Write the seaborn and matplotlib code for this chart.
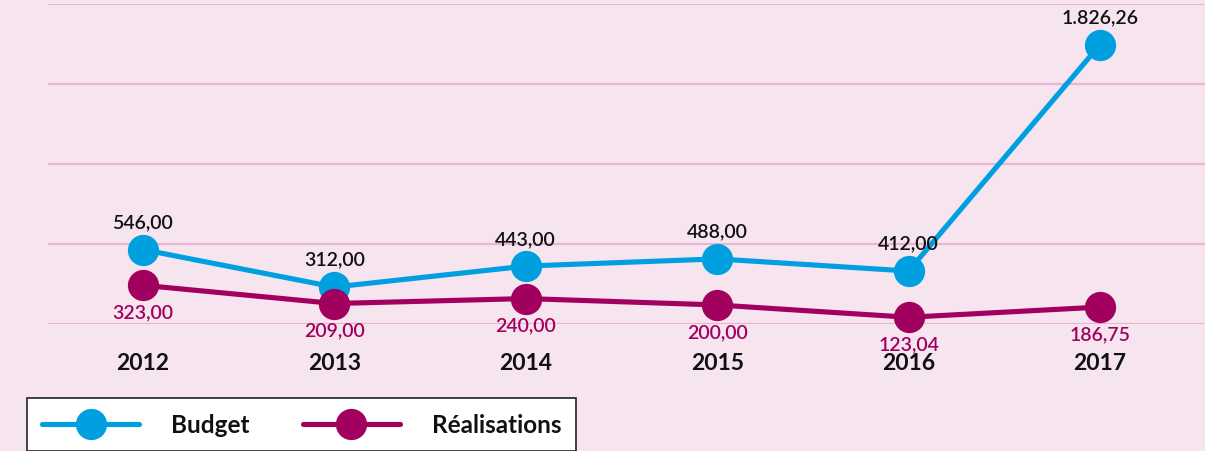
import numpy as np
import pandas as pd
import matplotlib
matplotlib.use("Agg")
import matplotlib.pyplot as plt
import seaborn as sns
from matplotlib.lines import Line2D

years = ["2012", "2013", "2014", "2015", "2016", "2017"]
budget = [546.00, 312.00, 443.00, 488.00, 412.00, 1826.26]
realisations = [323.00, 209.00, 240.00, 200.00, 123.04, 186.75]
budget_labels = ["546,00", "312,00", "443,00", "488,00", "412,00", "1.826,26"]
real_labels = ["323,00", "209,00", "240,00", "200,00", "123,04", "186,75"]
series_names = ["Budget", "Réalisations"]

BG = "#f6e5ef"
GRID = "#e9b5d2"
BLUE = "#009fe0"
MAG = "#a2005f"

sns.set_theme(style="white")
plt.rcParams["font.family"] = ["Lato", "DejaVu Sans"]

df = pd.DataFrame({
    "pos": list(range(len(years))) * 2,
    "value": budget + realisations,
    "series": [series_names[0]] * len(years) + [series_names[1]] * len(years),
})

fig = plt.figure(figsize=(12.05, 4.52), dpi=100, facecolor=BG)
ax = fig.add_axes([48 / 1205, (452 - 325) / 452, 1 - 48 / 1205, 320 / 452])
ax.set_facecolor(BG)

for name, color in zip(series_names, [BLUE, MAG]):
    sub = df[df["series"] == name]
    sns.lineplot(data=sub, x="pos", y="value", ax=ax, color=color,
                 linewidth=3.7, marker="o", markersize=22.5,
                 markeredgewidth=0, clip_on=False, zorder=3)

ax.set_xlim(-0.496, 5.549)
ax.set_ylim(81, 2081)
ax.set_yticks(np.linspace(81, 2081, 5))
ax.set_yticklabels([])
ax.grid(axis="y", color=GRID, linewidth=1.6)
ax.grid(axis="x", visible=False)
ax.set_axisbelow(True)
for s in ax.spines.values():
    s.set_visible(False)

ax.set_xticks(range(len(years)))
ax.set_xticklabels(years, fontsize=16.5, fontweight="bold", color="#111111")
ax.tick_params(axis="x", length=0, pad=20)
ax.tick_params(axis="y", length=0)
ax.set_xlabel("")
ax.set_ylabel("")

for i, (v, lab) in enumerate(zip(budget, budget_labels)):
    ax.annotate(lab, (i, v), xytext=(0, 20), textcoords="offset points",
                ha="center", va="center", fontsize=14, color="#111111",
                fontweight="semibold", annotation_clip=False)
for i, (v, lab) in enumerate(zip(realisations, real_labels)):
    ax.annotate(lab, (i, v), xytext=(0, -19), textcoords="offset points",
                ha="center", va="center", fontsize=14, color=MAG,
                fontweight="semibold", annotation_clip=False)

handles = [Line2D([], [], color=c, linewidth=3.7, marker="o", markersize=22.5,
                  markeredgewidth=0) for c in [BLUE, MAG]]
leg = fig.legend(handles, series_names, loc="upper left",
                 bbox_to_anchor=(27 / 1205, 1 - 399 / 452),
                 bbox_transform=fig.transFigure, ncol=2, frameon=True,
                 fancybox=False, edgecolor="#222222", facecolor="white",
                 framealpha=1, borderaxespad=0, fontsize=17.5,
                 handlelength=4.0, handletextpad=1.3, columnspacing=2.2,
                 borderpad=0.62)
leg.get_frame().set_linewidth(1.2)
for t in leg.get_texts():
    t.set_fontweight("bold")
    t.set_color("#111111")

fig.savefig("out.png", dpi=100, facecolor=BG)
